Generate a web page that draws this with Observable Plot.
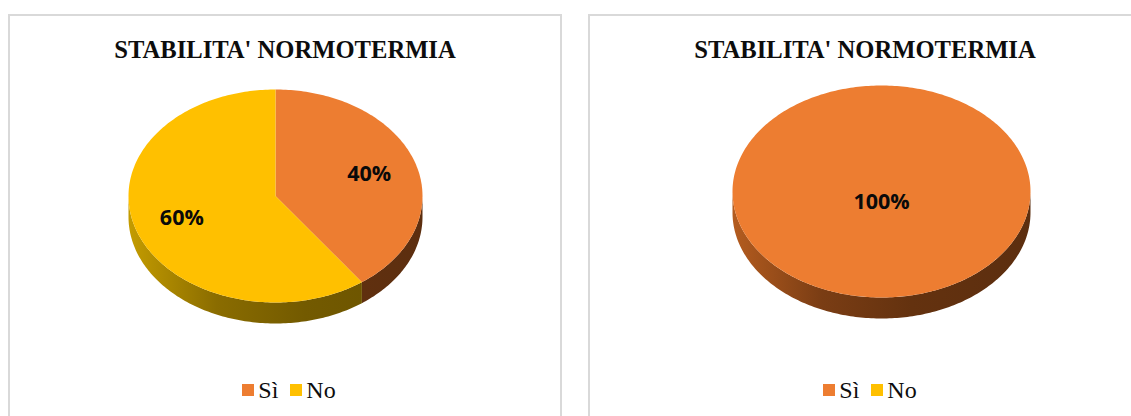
<!DOCTYPE html>
<html>
<head>
<meta charset="utf-8">
<script src="https://cdn.jsdelivr.net/npm/d3@7"></script>
<script src="https://cdn.jsdelivr.net/npm/@observablehq/plot@0.6"></script>
<style>
  html, body { margin: 0; padding: 0; background: #fff; }
  #page { position: relative; width: 1131px; height: 416px; overflow: hidden; }
  .panel { position: absolute; top: 14px; width: 554px; height: 430px; box-sizing: border-box; border: 2px solid #d9d9d9; background: #fff; }
  .title { position: absolute; left: 0; right: 0; top: 22px; text-align: center;
           font-family: "Liberation Serif", "Times New Roman", serif; font-weight: bold; font-size: 24.6px; line-height: 24px; color: #0d0d0d; }
  .legend { position: absolute; left: 0; right: 0; top: 362px; display: flex; justify-content: center; align-items: center;
            font-family: "Liberation Serif", "Times New Roman", serif; font-size: 24px; line-height: 24px; color: #0d0d0d; }
  .legend .item { display: flex; align-items: center; margin: 0 6px; }
  .legend .swatch { width: 12px; height: 12px; margin-right: 4px; }
  .chart { position: absolute; left: 0; top: 0; }
</style>
</head>
<body>
<div id="page"></div>
<script>
// Categories, colours and the percentages shown in each pie
const categories = ["Sì", "No"];
const sliceColors = ["#ED7D31", "#FFC000"];
const leftValues = [40, 60];
const rightValues = [100, 0];
const chartTitle = "STABILITA' NORMOTERMIA";

// Side-wall shading for each slice colour (lit from the left)
const wallStops = {
  "#ED7D31": [[0, "#B45C1F"], [0.3, "#7A3D14"], [0.6, "#64320F"], [1, "#5C2E0F"]],
  "#FFC000": [[0, "#C49C00"], [0.3, "#8A6C00"], [0.6, "#735A00"], [1, "#6A5200"]]
};

const page = document.getElementById("page");

// Sample an elliptical arc in unit coordinates (angle clockwise from 12 o'clock)
function arcPoints(a0, a1, dy = 0) {
  const n = Math.max(2, Math.ceil((a1 - a0) / (Math.PI / 180)));
  return d3.range(n + 1).map(i => {
    const a = a0 + (a1 - a0) * i / n;
    return {x: Math.sin(a), y: -Math.cos(a) + dy};
  });
}

function addPanel(left, values, pie) {
  const panel = document.createElement("div");
  panel.className = "panel";
  panel.style.left = left + "px";
  const title = document.createElement("div");
  title.className = "title";
  title.textContent = chartTitle;
  panel.appendChild(title);

  const legend = document.createElement("div");
  legend.className = "legend";
  legend.style.paddingLeft = pie.legendShift + "px";
  categories.forEach((c, i) => {
    const item = document.createElement("div");
    item.className = "item";
    const sw = document.createElement("div");
    sw.className = "swatch";
    sw.style.background = sliceColors[i];
    const tx = document.createElement("span");
    tx.textContent = c;
    item.appendChild(sw);
    item.appendChild(tx);
    legend.appendChild(item);
  });
  panel.appendChild(legend);
  page.appendChild(panel);

  // Slices from the values, starting at 12 o'clock, clockwise, in data order
  const arcs = d3.pie().sort(null)(values)
    .map((a, i) => ({...a, name: categories[i], color: sliceColors[i]}))
    .filter(a => a.value > 0);
  const depth = pie.depth;

  const marks = [];

  // soft shadow under the disc
  marks.push(Plot.line(arcPoints(0, 2 * Math.PI, depth + 0.03), {
    x: "x", y: "y", curve: "linear-closed", fill: "#000", fillOpacity: 0.22, stroke: "none", ariaLabel: "shadow"
  }));

  // visible front walls (angles between 3 and 9 o'clock)
  arcs.forEach((a, i) => {
    const s = Math.max(a.startAngle, Math.PI / 2);
    const e = Math.min(a.endAngle, 3 * Math.PI / 2);
    if (e <= s) return;
    const pts = arcPoints(s, e, 0).concat(arcPoints(s, e, depth).reverse());
    marks.push(Plot.line(pts, {
      x: "x", y: "y", curve: "linear-closed", stroke: "none",
      fill: `url(#${pie.id}-wall-${i})`
    }));
  });

  // top faces
  arcs.forEach(a => {
    const pts = [{x: 0, y: 0}].concat(arcPoints(a.startAngle, a.endAngle, 0));
    marks.push(Plot.line(pts, {x: "x", y: "y", curve: "linear-closed", stroke: "none", fill: a.color}));
  });

  // percentage labels
  const labels = arcs.map(a => {
    const full = a.endAngle - a.startAngle >= 2 * Math.PI - 1e-9;
    const mid = (a.startAngle + a.endAngle) / 2;
    const r = full ? 0 : 0.67;
    return {x: r * Math.sin(mid), y: full ? depth / 2 : -r * Math.cos(mid), label: a.value + "%"};
  });
  marks.push(Plot.text(labels, {
    x: "x", y: "y", text: "label", fill: "#0a0a0a", fontSize: 21.5, fontWeight: "bold",
    fontFamily: "'Open Sans', 'Noto Sans', sans-serif"
  }));

  const chart = Plot.plot({
    width: 1131, height: 416, margin: 0,
    x: {domain: [-1, 1], range: [pie.cx - pie.rx, pie.cx + pie.rx], axis: null},
    y: {domain: [-1, 1], range: [pie.cy - pie.ry, pie.cy + pie.ry], axis: null},
    style: {background: "transparent", overflow: "visible"},
    marks
  });
  chart.classList.add("chart");

  // gradients for the walls, spanning the disc's full width
  const xs = chart.scale("x");
  const svg = d3.select(chart);
  const defs = svg.insert("defs", ":first-child");
  arcs.forEach((a, i) => {
    const g = defs.append("linearGradient")
      .attr("id", `${pie.id}-wall-${i}`)
      .attr("gradientUnits", "userSpaceOnUse")
      .attr("x1", xs.apply(-1)).attr("x2", xs.apply(1))
      .attr("y1", 0).attr("y2", 0);
    wallStops[a.color].forEach(([o, c]) => g.append("stop").attr("offset", o).attr("stop-color", c));
  });
  svg.select('g[aria-label="shadow"]').style("filter", "blur(3px)");

  page.appendChild(chart);
}

addPanel(8, leftValues, {id: "p1", cx: 275, cy: 195.5, rx: 147, ry: 106.5, depth: 0.197, legendShift: 8});
addPanel(588, rightValues, {id: "p2", cx: 881, cy: 191, rx: 149, ry: 106, depth: 0.198, legendShift: 10});
</script>
</body>
</html>
